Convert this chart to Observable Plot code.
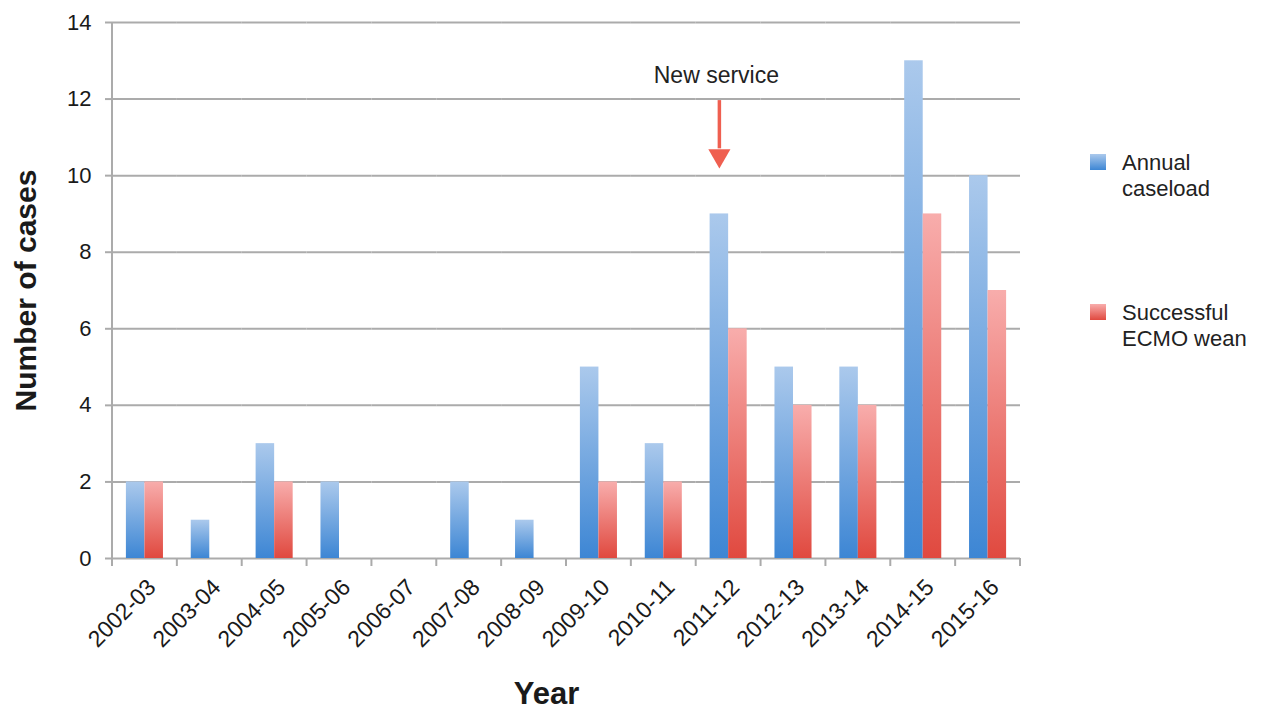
<!DOCTYPE html>
<html><head><meta charset="utf-8">
<script src="https://cdn.jsdelivr.net/npm/d3@7"></script>
<script src="https://cdn.jsdelivr.net/npm/@observablehq/plot@0.6"></script>
<style>
body{margin:0;background:#fff;font-family:"Liberation Sans",Arial,Helvetica,sans-serif;}
#wrap{position:relative;width:1262px;height:712px;overflow:hidden;}
#wrap svg{position:absolute;left:0;top:0;}
.legend-item{position:absolute;left:1090px;font-size:22px;line-height:26px;color:#222;}
.sw{position:absolute;left:0;top:4px;width:16px;height:16px;}
.lbl{position:absolute;left:32px;top:0;white-space:nowrap;}
g[aria-label="y-axis label"]{font-size:30px;font-weight:bold;}
g[aria-label="fx-axis label"]{font-size:31px;font-weight:bold;}
</style></head><body><div id="wrap"></div>
<script>
const years = ["2002-03","2003-04","2004-05","2005-06","2006-07","2007-08","2008-09","2009-10","2010-11","2011-12","2012-13","2013-14","2014-15","2015-16"];
const annualCaseload = [2,1,3,2,0,2,1,5,3,9,5,5,13,10];
const successfulWean = [2,0,2,0,0,0,0,2,2,6,4,4,9,7];
const seriesNames = ["Annual caseload","Successful ECMO wean"];
const yTicks = [0,2,4,6,8,10,12,14];
const annotation = [{year:"2011-12", series:"Annual caseload", label:"New service", textY:12.6, arrowTop:11.96, arrowBase:10.7, headY:10.52}];

const data = years.flatMap((yr,i)=>[
  {year:yr, series:seriesNames[0], value:annualCaseload[i]},
  {year:yr, series:seriesNames[1], value:successfulWean[i]}
]);

const red = "#ef5f50", gray = "#ababab";

const chart = Plot.plot({
  width:1262, height:712, marginLeft:112, marginRight:242, marginTop:22, marginBottom:154,
  style:{fontFamily:"'Liberation Sans', Arial, sans-serif", fontSize:"22px", color:"#1a1a1a", background:"transparent", overflow:"visible"},
  fx:{domain:years, padding:0, round:false},
  x:{domain:seriesNames, paddingInner:0, paddingOuter:0.75, round:false, axis:null},
  y:{domain:[0,14]},
  color:{type:"ordinal", domain:seriesNames, range:["url(#gradBlue)","url(#gradRed)"]},
  marks:[
    Plot.ruleY(yTicks, {stroke:gray, strokeWidth:2}),
    Plot.barY(data, {fx:"year", x:"series", y:"value", fill:"series"}),
    Plot.axisY({ticks:yTicks, tickSize:7, tickPadding:14, stroke:gray, strokeWidth:2, label:"Number of cases", labelAnchor:"center", labelArrow:"none", labelOffset:98}),
    Plot.axisFx({anchor:"bottom", tickSize:0, tickRotate:-45, tickPadding:25, fontSize:23, dx:7, label:"Year", labelAnchor:"center", labelArrow:"none", labelOffset:145}),
    Plot.ruleX(annotation, {fx:"year", x:"series", y1:"arrowTop", y2:"arrowBase", stroke:red, strokeWidth:3.5}),
    Plot.dot(annotation, {fx:"year", x:"series", y:"headY", symbol:"triangle", rotate:180, r:8.2, fill:red, stroke:null}),
    Plot.text(annotation, {fx:"year", x:"series", y:"textY", text:"label", fontSize:23, fill:"#222", dx:-3})
  ]
});

document.getElementById("wrap").appendChild(chart);
const svg = d3.select(chart);
const defs = svg.insert("defs", ":first-child");
function grad(id, c0, c1){
  const g = defs.append("linearGradient").attr("id", id).attr("x1",0).attr("y1",0).attr("x2",0).attr("y2",1);
  g.append("stop").attr("offset","0%").attr("stop-color",c0);
  g.append("stop").attr("offset","100%").attr("stop-color",c1);
}
grad("gradBlue", "#abc9ec", "#3d86d4");
grad("gradRed", "#f8adac", "#e0493f");

// shift the x-axis title to match the reference placement
svg.selectAll('g[aria-label="fx-axis label"]').each(function(){
  const g = d3.select(this);
  const t = g.attr("transform") || "";
  g.attr("transform", "translate(-20,0) " + t);
});

// category tick marks between groups and y axis line
const fxS = chart.scale("fx"), yS = chart.scale("y");
const y0 = yS.apply(0), yTop = yS.apply(14);
const tg = svg.append("g").attr("stroke", gray).attr("stroke-width", 2);
const bx = years.map(yr => fxS.apply(yr));
bx.push(fxS.apply(years[years.length-1]) + fxS.bandwidth);
bx.forEach(x => tg.append("line").attr("x1",x).attr("x2",x).attr("y1",y0).attr("y2",y0+8));
tg.append("line").attr("x1",bx[0]).attr("x2",bx[0]).attr("y1",yTop).attr("y2",y0+8);

// legend
const wrap = document.getElementById("wrap");
const legendTops = [150, 300];
const legendLines = [["Annual","caseload"],["Successful","ECMO wean"]];
const legendGrads = [["#abc9ec","#3d86d4"],["#f8adac","#e0493f"]];
seriesNames.forEach((s,i)=>{
  const item = document.createElement("div");
  item.className = "legend-item";
  item.style.top = legendTops[i] + "px";
  const sw = document.createElement("div");
  sw.className = "sw";
  sw.style.background = `linear-gradient(${legendGrads[i][0]}, ${legendGrads[i][1]})`;
  const lb = document.createElement("div");
  lb.className = "lbl";
  lb.innerHTML = legendLines[i].join("<br>");
  item.appendChild(sw); item.appendChild(lb);
  wrap.appendChild(item);
});
</script></body></html>
